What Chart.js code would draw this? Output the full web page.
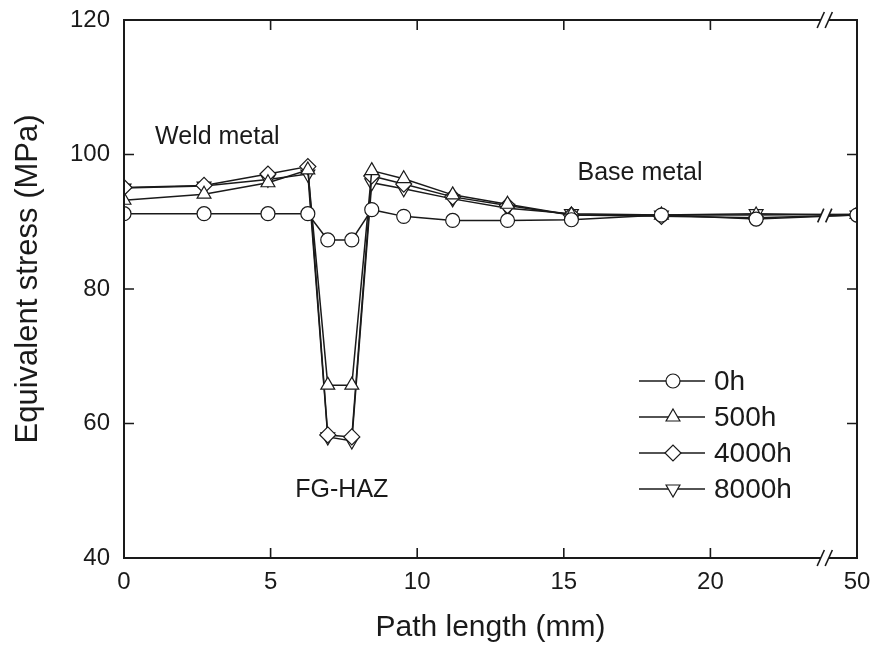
<!DOCTYPE html>
<html>
<head>
<meta charset="utf-8">
<script src="https://cdn.jsdelivr.net/npm/chart.js@4.4.1/dist/chart.umd.min.js"></script>
<style>
  html, body { margin: 0; padding: 0; background: #fff; }
</style>
</head>
<body>
<canvas id="myChart" width="878" height="650"></canvas>
<script>
// path length along the weld cross-section (mm); the last point is the far end at 50 mm
const pathLength = [0, 2.73, 4.91, 6.27, 6.95, 7.77, 8.45, 9.54, 11.21, 13.08, 15.26, 18.33, 21.56, 50];
const stress0h    = [91.2, 91.2, 91.2, 91.2, 87.3, 87.3, 91.8, 90.8, 90.2, 90.2, 90.3, 91.0, 90.4, 91.0];
const stress500h  = [93.2, 94.1, 95.8, 97.7, 65.7, 65.7, 97.6, 96.4, 94.0, 92.6, 91.0, 91.0, 91.0, 91.1];
const stress4000h = [95.1, 95.4, 97.1, 98.2, 58.3, 58.0, 96.8, 95.6, 93.7, 92.4, 91.0, 90.8, 90.6, 91.0];
const stress8000h = [95.0, 95.3, 96.3, 97.1, 58.0, 57.4, 95.8, 94.9, 93.4, 92.0, 91.2, 91.0, 91.2, 91.0];

const seriesLabels = ['0h', '500h', '4000h', '8000h'];
const seriesValues = [stress0h, stress500h, stress4000h, stress8000h];
const markers = ['circle', 'triangle', 'rectRot', 'triangle'];
const markerRotation = [0, 0, 0, 180];
const markerRadius = [7, 8, 8, 8];

const xTickValues = [0, 5, 10, 15, 20, 25];
const xTickLabels = ['0', '5', '10', '15', '20', '50'];
const yTicks = [40, 60, 80, 100, 120];

// broken x axis: everything past the break is squeezed so 50 mm lands at 25
const breakAt = 23.9;
const axisPos = v => (v >= 50 ? 25 : v);

const regions = [
    { text: 'Weld metal', x: 1.06, y: 102.6 },
    { text: 'Base metal', x: 17.6, y: 97.3 },
    { text: 'FG-HAZ', x: 7.43, y: 50.1 }
];

const FONT = "'Liberation Sans', Arial, Helvetica, sans-serif";
const INK = '#1a1a1a';

const datasets = seriesLabels.map((label, i) => ({
    label: label,
    data: pathLength.map((x, j) => ({ x: axisPos(x), y: seriesValues[i][j] })),
    borderColor: INK,
    borderWidth: 1.5,
    backgroundColor: '#fff',
    pointStyle: markers[i],
    rotation: markerRotation[i],
    pointRadius: markerRadius[i],
    pointHoverRadius: markerRadius[i],
    pointBackgroundColor: '#fff',
    pointBorderColor: INK,
    pointBorderWidth: 1.2,
    tension: 0,
    fill: false
}));

function slash(ctx, x, y, h) {
    ctx.beginPath();
    ctx.moveTo(x - h * 0.45, y + h);
    ctx.lineTo(x + h * 0.45, y - h);
    ctx.stroke();
}

function drawBreak(ctx, x, y, h, gap) {
    ctx.save();
    ctx.fillStyle = '#fff';
    ctx.beginPath();
    ctx.moveTo(x - gap - h * 0.45, y + h);
    ctx.lineTo(x - gap + h * 0.45, y - h);
    ctx.lineTo(x + gap + h * 0.45, y - h);
    ctx.lineTo(x + gap - h * 0.45, y + h);
    ctx.closePath();
    ctx.fill();
    ctx.strokeStyle = INK;
    ctx.lineWidth = 1.6;
    slash(ctx, x - gap, y, h);
    slash(ctx, x + gap, y, h);
    ctx.restore();
}

const framePlugin = {
    id: 'frame',
    afterDatasetsDraw(chart) {
        const { ctx, chartArea: a, scales: { x, y } } = chart;
        ctx.save();
        ctx.strokeStyle = INK;
        ctx.lineWidth = 2;
        ctx.strokeRect(a.left, a.top, a.right - a.left, a.bottom - a.top);

        // inward ticks on all four sides
        ctx.lineWidth = 1.6;
        const tl = 10;
        ctx.beginPath();
        x.ticks.forEach(t => {
            if (t.value <= x.min || t.value >= x.max) return;
            const px = x.getPixelForValue(t.value);
            ctx.moveTo(px, a.bottom); ctx.lineTo(px, a.bottom - tl);
            ctx.moveTo(px, a.top); ctx.lineTo(px, a.top + tl);
        });
        y.ticks.forEach(t => {
            if (t.value <= y.min || t.value >= y.max) return;
            const py = y.getPixelForValue(t.value);
            ctx.moveTo(a.left, py); ctx.lineTo(a.left + tl, py);
            ctx.moveTo(a.right, py); ctx.lineTo(a.right - tl, py);
        });
        ctx.stroke();

        // axis break marks on both frame lines and across the curves
        const bx = x.getPixelForValue(breakAt);
        drawBreak(ctx, bx, a.top, 8, 4);
        drawBreak(ctx, bx, a.bottom, 8, 4);
        const n = pathLength.length;
        const x0 = axisPos(pathLength[n - 2]), x1 = axisPos(pathLength[n - 1]);
        const f = (breakAt - x0) / (x1 - x0);
        const ys = seriesValues.map(s => y.getPixelForValue(s[n - 2] + (s[n - 1] - s[n - 2]) * f));
        const yMid = (Math.min(...ys) + Math.max(...ys)) / 2;
        const hh = (Math.max(...ys) - Math.min(...ys)) / 2 + 6;
        drawBreak(ctx, bx, yMid, hh, 4);

        // region names
        ctx.fillStyle = INK;
        ctx.font = '25px ' + FONT;
        ctx.textBaseline = 'middle';
        regions.forEach((r, i) => {
            ctx.textAlign = i === 0 ? 'left' : 'center';
            ctx.fillText(r.text, x.getPixelForValue(r.x), y.getPixelForValue(r.y));
        });

        // y axis title, centred a little above the plot middle
        ctx.save();
        ctx.translate(28, (a.top + a.bottom) / 2 - 10);
        ctx.rotate(-Math.PI / 2);
        ctx.textAlign = 'center';
        ctx.font = '31px ' + FONT;
        ctx.fillText('Equivalent stress (MPa)', 0, 0);
        ctx.restore();

        // legend: line through marker, then label
        const lx0 = a.right - 218, lx1 = a.right - 152, mx = a.right - 184;
        ctx.font = '28px ' + FONT;
        ctx.textAlign = 'left';
        chart.data.datasets.forEach((ds, i) => {
            const ly = 381 + i * 36;
            ctx.strokeStyle = INK;
            ctx.lineWidth = 1.5;
            ctx.beginPath();
            ctx.moveTo(lx0, ly); ctx.lineTo(lx1, ly);
            ctx.stroke();
            ctx.fillStyle = '#fff';
            ctx.lineWidth = 1.2;
            Chart.helpers.drawPoint(ctx, {
                pointStyle: ds.pointStyle,
                rotation: ds.rotation,
                radius: ds.pointRadius,
                borderWidth: 1.2
            }, mx, ly);
            ctx.fillStyle = INK;
            ctx.fillText(ds.label, a.right - 143, ly + 1);
        });
        ctx.restore();
    }
};

const ctx = document.getElementById('myChart').getContext('2d');

const myChart = new Chart(ctx, {
    type: 'line',
    data: { datasets: datasets },
    options: {
        responsive: false,
        animation: false,
        maintainAspectRatio: false,
        layout: { padding: { top: 20, right: 21, left: 0, bottom: 0 } },
        scales: {
            x: {
                type: 'linear',
                min: 0,
                max: 25,
                afterFit: s => { s.height = 92; s.paddingLeft = 0; s.paddingRight = 0; },
                afterBuildTicks: s => { s.ticks = xTickValues.map(v => ({ value: v })); },
                grid: { display: false, drawTicks: false },
                border: { display: false },
                ticks: {
                    color: INK,
                    padding: 10,
                    font: { family: FONT, size: 24 },
                    maxRotation: 0,
                    callback: v => xTickLabels[xTickValues.indexOf(v)]
                },
                title: {
                    display: true,
                    text: 'Path length (mm)',
                    color: INK,
                    font: { family: FONT, size: 30 },
                    padding: { top: 0, bottom: 4 }
                }
            },
            y: {
                min: 40,
                max: 120,
                afterFit: s => { s.width = 124; s.paddingTop = 0; s.paddingBottom = 0; },
                afterBuildTicks: s => { s.ticks = yTicks.map(v => ({ value: v })); },
                grid: { display: false, drawTicks: false },
                border: { display: false },
                ticks: {
                    color: INK,
                    padding: 14,
                    font: { family: FONT, size: 24 }
                },
                title: { display: false }
            }
        },
        plugins: {
            legend: { display: false },
            tooltip: { enabled: false }
        }
    },
    plugins: [framePlugin]
});
</script>
</body>
</html>
